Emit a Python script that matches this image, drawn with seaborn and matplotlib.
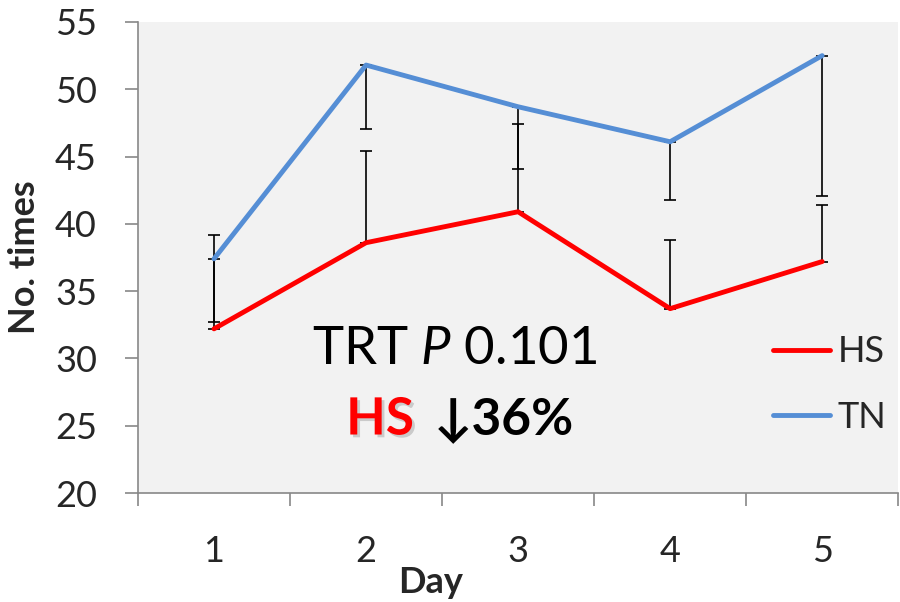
import numpy as np
import pandas as pd
import matplotlib
matplotlib.use("Agg")
import matplotlib.pyplot as plt
import matplotlib.patheffects as pe
import seaborn as sns

# Dados
days = [1, 2, 3, 4, 5]
hs = [32.2, 38.6, 40.9, 33.7, 37.2]
tn = [37.4, 51.8, 48.7, 46.1, 52.5]
hs_err_up = [7.0, 6.8, 6.5, 5.1, 4.2]
tn_err_down = [4.7, 4.75, 4.6, 4.3, 10.4]
groups = ["HS", "TN"]
colors = {"HS": "#FF0000", "TN": "#558ED5"}

sns.set_theme(style="white")
plt.rcParams["font.family"] = ["Lato", "DejaVu Sans"]
plt.rcParams["mathtext.fontset"] = "custom"
plt.rcParams["mathtext.rm"] = "Lato"
plt.rcParams["mathtext.it"] = "Lato:italic"

pos = np.arange(len(days))
df = pd.DataFrame({
    "pos": np.concatenate([pos, pos]),
    "value": hs + tn,
    "group": ["HS"] * len(days) + ["TN"] * len(days),
})

fig = plt.figure(figsize=(9, 6.02), dpi=100)
ax = fig.add_axes([0.1533, 0.181, 0.8447, 0.7825])
ax.set_facecolor("#F2F2F2")

# Barras de erro (HS para cima, TN para baixo)
ax.errorbar(pos, hs, yerr=[np.zeros(len(hs)), hs_err_up], fmt="none",
            ecolor="black", elinewidth=1.2, capsize=4.5, capthick=1.2, zorder=2)
ax.errorbar(pos, tn, yerr=[tn_err_down, np.zeros(len(tn))], fmt="none",
            ecolor="black", elinewidth=1.2, capsize=4.5, capthick=1.2, zorder=2)

sns.lineplot(data=df, x="pos", y="value", hue="group", palette=colors,
             linewidth=3.5, ax=ax, legend=False, zorder=3)
for line in ax.lines:
    line.set_solid_capstyle("round")

ax.set_xlim(-0.5, len(days) - 0.5)
ax.set_ylim(20, 55)
ax.set_yticks(range(20, 56, 5))
ax.set_xticks(pos)
ax.set_xticklabels([str(d) for d in days])
ax.set_xticks(np.arange(-0.5, len(days), 1), minor=True)

for s in ["top", "right"]:
    ax.spines[s].set_visible(False)
for s in ["left", "bottom"]:
    ax.spines[s].set_color("#888888")
    ax.spines[s].set_linewidth(1.2)

ax.tick_params(axis="y", which="major", direction="out", length=9.5, width=1.2,
               color="#888888", labelsize=26, pad=20, left=True)
ax.tick_params(axis="x", which="major", length=0, labelsize=26, pad=30)
ax.tick_params(axis="x", which="minor", direction="out", length=9.5, width=1.2,
               color="#888888", bottom=True)

ax.set_xlabel("Day", fontsize=26, fontweight="bold")
ax.xaxis.set_label_coords(0.385, -0.155)
ax.set_ylabel("No. times", fontsize=26, fontweight="bold")
ax.yaxis.set_label_coords(-0.127, 0.5)

# Anotações
ax.text(0.416, 0.305, r"TRT $\it{P}$ 0.101", transform=ax.transAxes,
        ha="center", va="center", fontsize=38, color="black")
ax.text(0.363, 0.155, "HS", transform=ax.transAxes, ha="right", va="center",
        fontsize=37, fontweight="bold", color="#FF0000",
        path_effects=[pe.withSimplePatchShadow(offset=(2, -2), shadow_rgbFace="gray", alpha=0.35)])
ax.text(0.389, 0.155, "↓36%", transform=ax.transAxes, ha="left", va="center",
        fontsize=37, fontweight="bold", color="black")

handles = [plt.Line2D([], [], color=colors[g], linewidth=3.5, solid_capstyle="round") for g in groups]
ax.legend(handles, groups, loc="upper left", bbox_to_anchor=(0.8355, 0.335),
          frameon=False, fontsize=26, handlelength=1.58, handletextpad=0.2,
          labelspacing=0.9, borderpad=0, borderaxespad=0)

plt.savefig("out.png", dpi=100)
